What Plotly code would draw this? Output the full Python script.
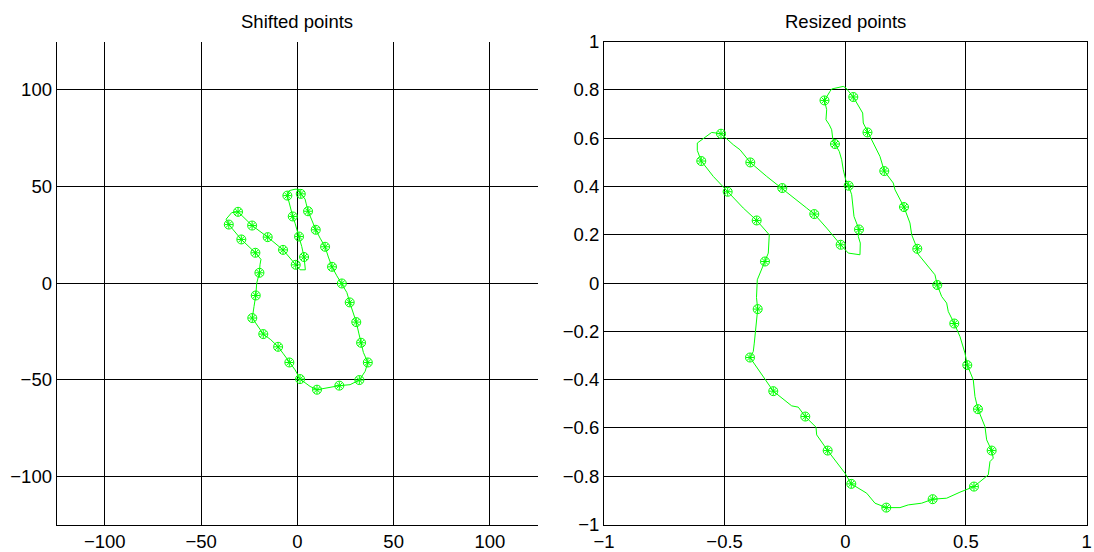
import plotly.graph_objects as go

# ---- Shifted contour (outline vertices, clockwise from the finger tip) ----
shift_line_x = [-5.19, -4.16, -1.19, 0.52, 1.77, 4.0, 4.52, 5.56, 7.48, 9.56, 11.8, 14.4,
                16.1, 18.0, 20.5, 23.1, 25.7, 27.2, 28.8, 30.6, 31.9, 33.1, 34.3, 36.6,
                35.2, 32.2, 27.4, 21.8, 16.1, 10.2, 6.6, 1.40, -1.19, -4.16, -7.27, -10.0,
                -13.8, -17.7, -23.4, -22.5, -21.6, -21.1, -19.7, -19.4, -18.9, -21.8, -29.1,
                -35.6, -37.0, -34.1, -30.8, -23.5, -15.4, -7.43, -0.83, 1.4, 4.16, 3.48,
                2.29, 0.88, -1.19, -2.39, -3.79]
shift_line_y = [45.3, 47.9, 48.6, 48.6, 46.2, 43.5, 41.4, 37.2, 32.7, 27.6, 23.3, 18.8,
                13.5, 8.43, 3.78, -0.2, -4.86, -10.0, -15.2, -20.2, -25.9, -30.9, -35.9, -41.1,
                -45.7, -50.2, -52.6, -53.1, -54.3, -55.2, -53.5, -49.7, -44.9, -41.1, -36.6, -33.0,
                -29.3, -26.4, -18.1, -12.1, -6.41, 0.0, 5.33, 9.47, 12.3, 15.7, 22.6,
                30.3, 33.1, 36.5, 36.9, 29.8, 23.8, 17.2, 9.47, 6.88, 6.88, 13.5,
                18.9, 24.1, 31.0, 34.5, 39.6]

# ---- Shifted contour: sampled landmark points ----
shift_pts_x = [-5.19, -2.39, 0.88, 3.48, -0.83, -7.43, -15.4, -23.5, -30.8, -35.6, -29.1,
               -21.8, -19.7, -21.6, -23.4, -17.7, -10.0, -4.16, 1.40, 10.2, 21.8, 32.2,
               36.6, 33.1, 30.6, 27.2, 23.1, 18.0, 14.4, 9.56, 5.56, 1.77]
shift_pts_y = [45.3, 34.5, 24.1, 13.5, 9.47, 17.2, 23.8, 29.8, 36.9, 30.3, 22.6,
               15.7, 5.33, -6.41, -18.1, -26.4, -33.0, -41.1, -49.7, -55.2, -53.1, -50.2,
               -41.1, -30.9, -20.2, -10.0, -0.2, 8.43, 18.8, 27.6, 37.2, 46.2]

# ---- Resized contour (outline vertices) ----
resize_line_x = [-0.0862, -0.0771, -0.0800, -0.0663, -0.0564, -0.0522, -0.0427, -0.0249,
                 -0.0149, -0.0083, 0.0017, 0.0141, 0.0265, 0.0307, 0.0361, 0.0568, 0.0539,
                 0.0622, 0.0609, 0.0124, -0.0191, -0.0771, -0.1285, -0.1600, -0.1948,
                 -0.2292, -0.2611, -0.3257, -0.3937, -0.4364, -0.4641, -0.5056, -0.5151,
                 -0.5537, -0.6133, -0.6133, -0.5968, -0.5470, -0.4874, -0.4227, -0.3672,
                 -0.3150, -0.3191, -0.3328, -0.3535, -0.3647, -0.3680, -0.3630, -0.3771,
                 -0.3813, -0.3949, -0.3464, -0.2984, -0.2221, -0.1948, -0.1658, -0.1214,
                 -0.1185, -0.0729, -0.0012, 0.0249, 0.0887, 0.1231, 0.1699, 0.2267, 0.2611,
                 0.3166, 0.3622, 0.4202, 0.4753, 0.5334, 0.5926, 0.5997, 0.6133, 0.6067,
                 0.5860, 0.5789, 0.5499, 0.5375, 0.5305, 0.5056, 0.4961, 0.4753, 0.4517,
                 0.4269, 0.4202, 0.3995, 0.3813, 0.3717, 0.2984, 0.2984, 0.2752, 0.2681,
                 0.2433, 0.2060, 0.1989, 0.1616, 0.1438, 0.1231, 0.0920, 0.0746, 0.0721,
                 0.0332, 0.0195, 0.0029, -0.0083, -0.0220, -0.0564, -0.0634]
resize_line_y = [0.7567, 0.7182, 0.6767, 0.6560, 0.6353, 0.6009, 0.5760, 0.5454, 0.5110,
                 0.4695, 0.4281, 0.4032, 0.3659, 0.3245, 0.2760, 0.2221, 0.1931, 0.1658,
                 0.1173, 0.1243, 0.1587, 0.2279, 0.2859, 0.3108, 0.3382, 0.3659, 0.3937,
                 0.4418, 0.4998, 0.5524, 0.5731, 0.6104, 0.6187, 0.6241, 0.5802, 0.5495,
                 0.5056, 0.4418, 0.3784, 0.3108, 0.2594, 0.2002, 0.1243, 0.0895, 0.0414,
                 0.0137, -0.0600, -0.1077, -0.2486, -0.2835, -0.3083, -0.3800, -0.4476,
                 -0.5085, -0.5139, -0.5528, -0.5968, -0.6287, -0.6937, -0.7874, -0.8317,
                 -0.8703, -0.9117, -0.9300, -0.9300, -0.9188, -0.9117, -0.8951, -0.8910,
                 -0.8661, -0.8429, -0.7944, -0.7393, -0.7252, -0.6937, -0.6494, -0.5943,
                 -0.5222, -0.4700, -0.4007, -0.3398, -0.2901, -0.2213, -0.1674, -0.1177,
                 -0.0829, -0.0555, -0.0079, 0.0344, 0.1243, 0.1421, 0.2002, 0.2487, 0.3150,
                 0.3867, 0.4144, 0.4641, 0.5247, 0.5661, 0.6241, 0.6631, 0.7045, 0.7708,
                 0.7874, 0.8081, 0.8147, 0.8122, 0.8040, 0.7940]

# ---- Resized contour: sampled landmark points ----
resize_pts_x = [-0.0862, -0.0427, 0.0141, 0.0568, -0.0191, -0.1285, -0.2611, -0.3937,
                -0.5151, -0.5968, -0.4874, -0.3672, -0.3328, -0.3630, -0.3949, -0.2984,
                -0.1658, -0.0729, 0.0249, 0.1699, 0.3622, 0.5334, 0.6067, 0.5499, 0.5056,
                0.4517, 0.3813, 0.2984, 0.2433, 0.1616, 0.0920, 0.0332]
resize_pts_y = [0.7567, 0.5760, 0.4032, 0.2221, 0.1587, 0.2859, 0.3937, 0.4998,
                0.6187, 0.5056, 0.3784, 0.2594, 0.0895, -0.1077, -0.3083, -0.4476,
                -0.5528, -0.6937, -0.8317, -0.9300, -0.8951, -0.8429, -0.6937, -0.5222,
                -0.3398, -0.1674, -0.0079, 0.1421, 0.3150, 0.4641, 0.6241, 0.7708]

# ---- Axis ticks ----
left_ticks = [-100, -50, 0, 50, 100]
left_tick_text = ["\u2212100", "\u221250", "0", "50", "100"]
right_x_ticks = [-1, -0.5, 0, 0.5, 1]
right_x_text = ["\u22121", "\u22120.5", "0", "0.5", "1"]
right_y_ticks = [-1, -0.8, -0.6, -0.4, -0.2, 0, 0.2, 0.4, 0.6, 0.8, 1]
right_y_text = ["\u22121", "\u22120.8", "\u22120.6", "\u22120.4", "\u22120.2", "0",
                "0.2", "0.4", "0.6", "0.8", "1"]

GREEN = "#00ff00"
FONT = "Liberation Sans, Arial, sans-serif"
FSIZE = 18.5

fig = go.Figure()


def add_contour(lx, ly, px, py, xa, ya):
    fig.add_trace(go.Scatter(x=lx + lx[:1], y=ly + ly[:1], mode="lines",
                             line=dict(color=GREEN, width=1),
                             xaxis=xa, yaxis=ya, hoverinfo="skip"))
    fig.add_trace(go.Scatter(x=px, y=py, mode="markers",
                             marker=dict(symbol="circle-open", size=9, color=GREEN,
                                         line=dict(color=GREEN, width=1)),
                             xaxis=xa, yaxis=ya))
    fig.add_trace(go.Scatter(x=px, y=py, mode="markers",
                             marker=dict(symbol="asterisk-open", size=7, color=GREEN,
                                         line=dict(color=GREEN, width=1)),
                             xaxis=xa, yaxis=ya))


add_contour(shift_line_x, shift_line_y, shift_pts_x, shift_pts_y, "x", "y")
add_contour(resize_line_x, resize_line_y, resize_pts_x, resize_pts_y, "x2", "y2")

Y_DOM = [0.0498, 0.9245]
common = dict(showgrid=True, gridcolor="black", gridwidth=1, zeroline=False,
              showline=True, linecolor="black", linewidth=1, automargin=False,
              ticks="inside", ticklen=5, tickcolor="black",
              tickfont=dict(family=FONT, size=FSIZE, color="black"))

fig.update_layout(
    width=1094, height=552,
    margin=dict(l=0, r=0, t=0, b=0, pad=0),
    paper_bgcolor="white", plot_bgcolor="white",
    showlegend=False,
    xaxis=dict(domain=[0.0518, 0.4918], range=[-125, 125], anchor="y",
               tickvals=left_ticks, ticktext=left_tick_text, mirror=False, **common),
    yaxis=dict(domain=Y_DOM, range=[-125, 125], anchor="x",
               tickvals=left_ticks, ticktext=left_tick_text, mirror=False, **common),
    xaxis2=dict(domain=[0.5521, 0.9932], range=[-1, 1], anchor="y2",
                tickvals=right_x_ticks, ticktext=right_x_text, mirror=True, **common),
    yaxis2=dict(domain=Y_DOM, range=[-1, 1], anchor="x2",
                tickvals=right_y_ticks, ticktext=right_y_text, mirror=True, **common),
    annotations=[
        dict(text="Shifted points", x=(0.0518 + 0.4918) / 2, y=1 - 22 / 552,
             xref="paper", yref="paper", xanchor="center", yanchor="middle",
             showarrow=False, font=dict(family=FONT, size=FSIZE, color="black")),
        dict(text="Resized points", x=(0.5521 + 0.9932) / 2, y=1 - 22 / 552,
             xref="paper", yref="paper", xanchor="center", yanchor="middle",
             showarrow=False, font=dict(family=FONT, size=FSIZE, color="black")),
    ],
)

fig.write_html("out.html")
